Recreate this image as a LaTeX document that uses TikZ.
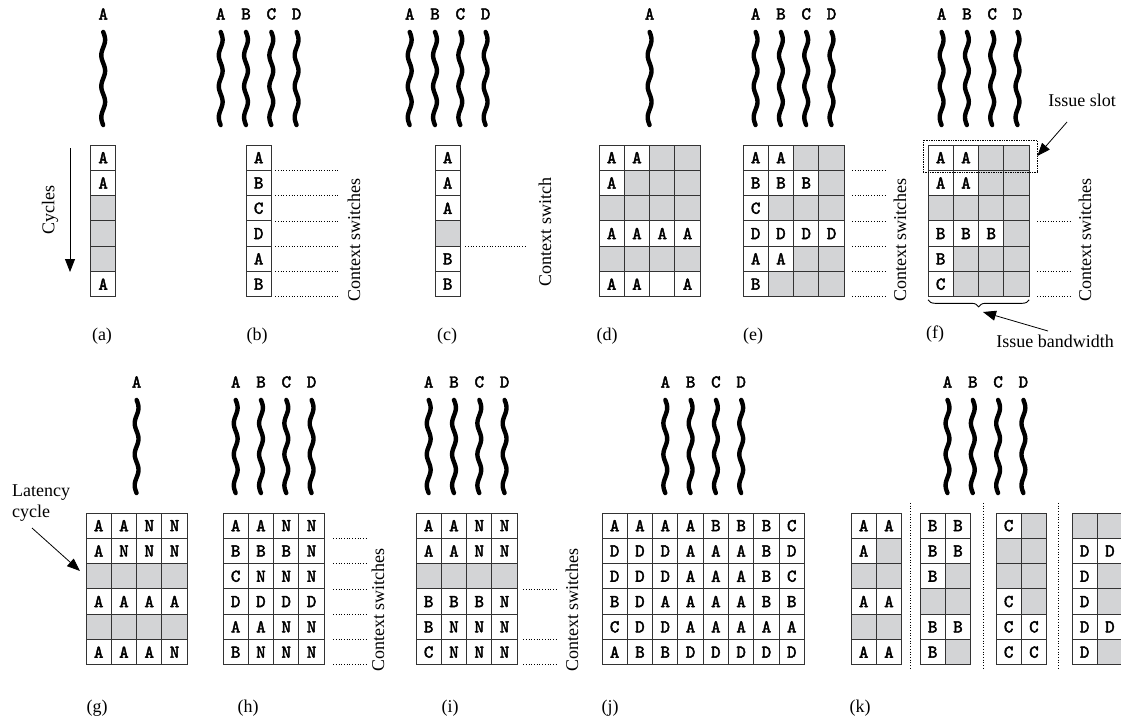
\documentclass[tikz,border=0pt]{standalone}
\usepackage{fontspec}
\setmainfont{Liberation Serif}
\newfontfamily\cellfont{lmmono10-regular.otf}[FakeBold=2.5]
\usepackage{etoolbox}
\usetikzlibrary{arrows.meta,decorations.pathreplacing}
\definecolor{cellgray}{RGB}{211,212,214}
\newcommand\mkgrid[4]{%
  \foreach \gr [count=\gi] in {#4}{%
    \foreach \gv [count=\gj] in \gr {%
      \ifdefstring{\gv}{-}{\def\gf{cellgray}\def\gt{}}{\ifdefstring{\gv}{0}{\def\gf{white}\def\gt{}}{\def\gf{white}\let\gt\gv}}%
      \node[cell, fill=\gf] (#1-\gi-\gj) at ({#2+(\gj-0.5)*25.3},{#3+(\gi-0.5)*25.3}) {\gt};
    }
  }
}
% name, x of first thread, grid top, letters
\newcommand\mkthreads[4]{%
  \foreach \tl [count=\ti] in {#4}{%
    \node[tlabel] (#1-\tl) at ({#2+(\ti-1)*25.3},{#3-131}) {\tl};
    \draw[thread] plot[domain=0:93, samples=80, smooth, variable=\t] ({#2+(\ti-1)*25.3+1.9*sin(\t*11.6)},{#3-113+\t});
  }
}
\begin{document}
\begin{tikzpicture}[x=1pt,y=-1pt,
  cell/.style={draw=black!80, line width=0.9pt, minimum size=25.3pt, inner sep=0pt, outer sep=0pt, font=\fontsize{18}{18}\selectfont\cellfont},
  tlabel/.style={font=\fontsize{18}{18}\selectfont\cellfont, inner sep=0pt},
  thread/.style={line width=4.4pt, line cap=round, line join=round},
  lbl/.style={font=\fontsize{18}{20}\selectfont, inner sep=0pt},
  dotline/.style={dotted, line width=0.7pt},
  arr/.style={line width=0.8pt, -{Triangle[length=13pt,width=10pt]}},
  slotbox/.style={draw, densely dotted, line width=0.7pt, minimum width=114pt, minimum height=32pt, inner sep=0pt},
]
\useasboundingbox (0,0) rectangle (1121,720);
\fill[white] (0,0) rectangle (1121,720);

% ---------- (a)
\mkthreads{ta}{103.2}{145}{A}
\mkgrid{a}{90.5}{145}{{A},{A},{-},{-},{-},{A}}
\node[lbl, rotate=90] (cyc) at (50,210) {Cycles};
\coordinate (cyc-s) at (70,148);
\coordinate (cyc-e) at (70,272);
\draw[arr] (cyc-s) -- (cyc-e);
\node[lbl] (la) at (102,336) {(a)};

% ---------- (b)
\mkthreads{tb}{220.7}{145}{A,B,C,D}
\mkgrid{b}{246}{145}{{A},{B},{C},{D},{A},{B}}
\foreach \i in {1,...,6} \draw[dotline] ([xshift=4]b-\i-1.south east) -- ++(63,0);
\node[lbl, rotate=90] (csb) at (354,240) {Context switches};
\node[lbl] (lb) at (257,336) {(b)};

% ---------- (c)
\mkthreads{tc}{409.7}{145}{A,B,C,D}
\mkgrid{c}{435}{145}{{A},{A},{A},{-},{B},{B}}
\draw[dotline] ([xshift=5]c-4-1.south east) -- ++(62,0);
\node[lbl, rotate=90] (csc) at (545,232) {Context switch};
\node[lbl] (lc) at (447,336) {(c)};

% ---------- (d)
\mkthreads{td}{649.6}{145}{A}
\mkgrid{d}{599}{145}{{A,A,-,-},{A,-,-,-},{-,-,-,-},{A,A,A,A},{-,-,-,-},{A,A,0,A}}
\node[lbl] (ld) at (607,336) {(d)};

% ---------- (e)
\mkthreads{te}{755.6}{145}{A,B,C,D}
\mkgrid{e}{743}{145}{{A,A,-,-},{B,B,B,-},{C,-,-,-},{D,D,D,D},{A,A,-,-},{B,-,-,-}}
\foreach \i in {1,...,6} \draw[dotline] ([xshift=8]e-\i-4.south east) -- ++(33,0);
\node[lbl, rotate=90] (cse) at (900,240) {Context switches};
\node[lbl] (le) at (753,336) {(e)};

% ---------- (f)
\mkthreads{tf}{941.6}{145}{A,B,C,D}
\mkgrid{f}{928}{145}{{A,A,-,-},{A,A,-,-},{-,-,-,-},{B,B,B,-},{B,-,-,-},{C,-,-,-}}
\foreach \i in {3,5,6} \draw[dotline] ([xshift=8]f-\i-4.south east) -- ++(33,0);
\node[lbl, rotate=90] (csf) at (1085,240) {Context switches};
\node[slotbox] (slot) at (980,156) {};
\node[lbl] (islot) at (1082,100) {Issue slot};
\coordinate (islot-s) at (1067,122);
\draw[arr] (islot-s) -- (slot.east);
\draw[line width=0.9pt, decorate, decoration={brace, mirror, amplitude=7pt}] ([yshift=-3]f-6-1.south west) -- ([yshift=-3]f-6-4.south east);
\node[lbl] (ibw) at (1055,341) {Issue bandwidth};
\coordinate (ibw-s) at (1048,331);
\coordinate (ibw-e) at (983,312);
\draw[arr] (ibw-s) -- (ibw-e);
\node[lbl] (lf) at (935,334) {(f)};

% ---------- (g)
\mkthreads{tg}{136.6}{513}{A}
\mkgrid{g}{86}{513}{{A,A,N,N},{A,N,N,N},{-,-,-,-},{A,A,A,A},{-,-,-,-},{A,A,A,N}}
\node[lbl, anchor=west] (lat1) at (12,493) {Latency};
\node[lbl, anchor=west] (lat2) at (12,513) {cycle};
\coordinate (lat-s) at (32,528);
\coordinate (lat-e) at (80,571);
\draw[arr] (lat-s) -- (lat-e);
\node[lbl] (lg) at (97,708) {(g)};

% ---------- (h)
\mkthreads{th}{235.7}{513}{A,B,C,D}
\mkgrid{h}{223}{513}{{A,A,N,N},{B,B,B,N},{C,N,N,N},{D,D,D,D},{A,A,N,N},{B,N,N,N}}
\foreach \i in {1,...,6} \draw[dotline] ([xshift=9]h-\i-4.south east) -- ++(34,0);
\node[lbl, rotate=90] (csh) at (378,610) {Context switches};
\node[lbl] (lh) at (248,708) {(h)};

% ---------- (i)
\mkthreads{ti}{428.7}{513}{A,B,C,D}
\mkgrid{i}{416}{513}{{A,A,N,N},{A,A,N,N},{-,-,-,-},{B,B,B,N},{B,N,N,N},{C,N,N,N}}
\foreach \i in {3,5,6} \draw[dotline] ([xshift=6]i-\i-4.south east) -- ++(34,0);
\node[lbl, rotate=90] (csi) at (572,610) {Context switches};
\node[lbl] (li) at (450,708) {(i)};

% ---------- (j)
\mkthreads{tj}{665.3}{513}{A,B,C,D}
\mkgrid{j}{602}{513}{{A,A,A,A,B,B,B,C},{D,D,D,A,A,A,B,D},{D,D,D,A,A,A,B,C},{B,D,A,A,A,A,B,B},{C,D,D,A,A,A,A,A},{A,B,B,D,D,D,D,D}}
\node[lbl] (lj) at (610,708) {(j)};

% ---------- (k)
\mkthreads{tk}{947.5}{513}{A,B,C,D}
\mkgrid{k1}{851}{513}{{A,A},{A,-},{-,-},{A,A},{-,-},{A,A}}
\mkgrid{k2}{920}{513}{{B,B},{B,B},{B,-},{-,-},{B,B},{B,-}}
\mkgrid{k3}{996}{513}{{C,-},{-,-},{-,-},{C,-},{C,C},{C,C}}
\mkgrid{k4}{1072}{513}{{-,-},{D,D},{D,-},{D,-},{D,D},{D,-}}
\foreach \sx in {910,983,1058} \draw[dotline] (\sx,503) -- (\sx,670);
\node[lbl] (lk) at (860,708) {(k)};
\end{tikzpicture}
\end{document}
